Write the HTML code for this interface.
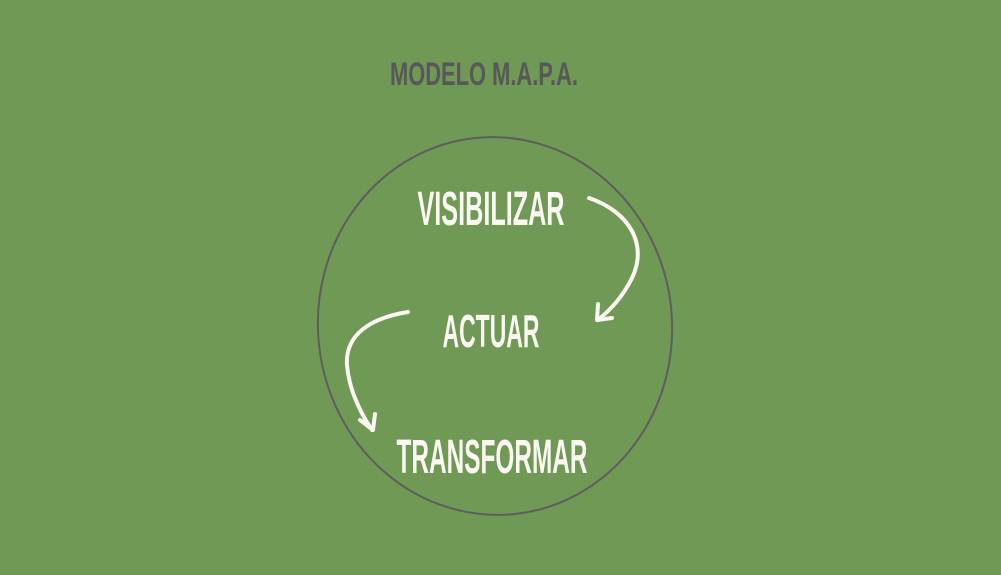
<!DOCTYPE html>
<html><head><meta charset="utf-8"><style>
html,body{margin:0;padding:0;background:#6f9954;}
svg{display:block}
</style></head><body>
<svg width="1001" height="575" viewBox="0 0 1001 575" xmlns="http://www.w3.org/2000/svg">
<rect width="1001" height="575" fill="#6f9954"/>
<text x="484" y="85" text-anchor="middle" textLength="188" lengthAdjust="spacingAndGlyphs" font-family="'Liberation Sans Narrow','Liberation Sans',sans-serif" font-weight="bold" font-size="32" fill="#58575a">MODELO M.A.P.A.</text>
<ellipse cx="495" cy="326" rx="177" ry="189" transform="rotate(-6 495 326)" fill="none" stroke="#5e5d60" stroke-width="2"/>
<g font-family="'Liberation Sans Narrow','Liberation Sans',sans-serif" font-weight="bold" fill="#fbf8f3" text-anchor="middle">
<text x="491" y="225" font-size="48" textLength="147" lengthAdjust="spacingAndGlyphs">VISIBILIZAR</text>
<text x="491" y="347" font-size="46" textLength="97" lengthAdjust="spacingAndGlyphs">ACTUAR</text>
<text x="492" y="473" font-size="48" textLength="191" lengthAdjust="spacingAndGlyphs">TRANSFORMAR</text>
</g>
<g fill="none" stroke="#fbf8f3" stroke-width="4" stroke-linecap="round" stroke-linejoin="round">
<path d="M589 198 C630 212 648 245 632 278 C622 298 610 310 598 320"/>
<path d="M598 304 L597 320 L612 318"/>
<path d="M408 312 C370 318 345 335 347 365 C349 390 360 412 372 430"/>
<path d="M360 420 L373 430 L375 414"/>
</g>
</svg>
</body></html>
